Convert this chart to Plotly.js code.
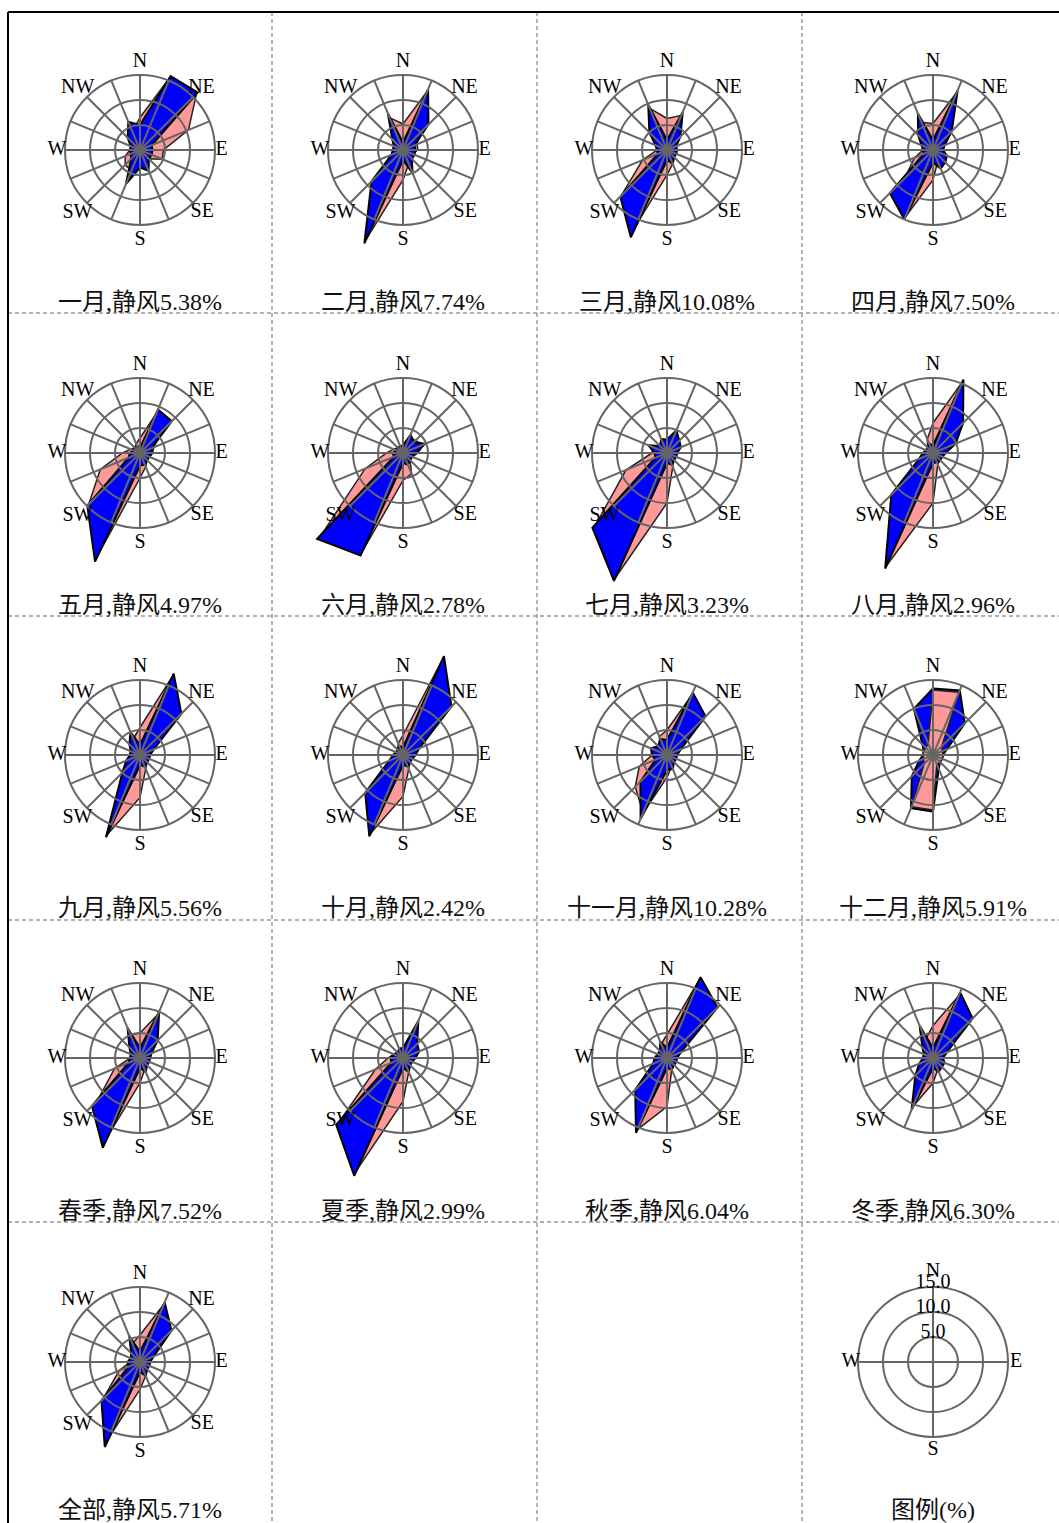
<!DOCTYPE html>
<html>
<head>
<meta charset="utf-8">
<script src="https://cdn.plot.ly/plotly-3.0.1.min.js"></script>
<style>
html,body{margin:0;padding:0;background:#fff;}
#chart{width:1059px;height:1523px;}
</style>
</head>
<body>
<div id="chart"></div>
<script>
// ---------------- DATA ----------------
const directions = ['N','NNE','NE','ENE','E','ESE','SE','SSE','S','SSW','SW','WSW','W','WNW','NW','NNW'];
const dirAngles  = [0,22.5,45,67.5,90,112.5,135,157.5,180,202.5,225,247.5,270,292.5,315,337.5];

const panelNames = ['一月','二月','三月','四月','五月','六月','七月','八月','九月','十月','十一月','十二月','春季','夏季','秋季','冬季','全部'];
const calmPercent = [5.38,7.74,10.08,7.50,4.97,2.78,3.23,2.96,5.56,2.42,10.28,5.91,7.52,2.99,6.04,6.30,5.71];

// blue polygon (%), 16 directions N..NNW
const jan_blue = [5,16,16.3,2.5,2.5,2.5,2.5,4.5,3.5,7.4,2.5,2,2,2,3.5,6.1];
const feb_blue = [1.5,13.1,7.2,2.5,2.5,2.5,2.5,5,2,20.2,8.9,2.5,2,2,3,7.9];
const mar_blue = [2,8.2,3.8,2,2,2,2,3,2,18.9,13.2,2,2,2.5,5,9.8];
const apr_blue = [2,12.9,5.3,2.5,2,3,3.5,4,2.5,15,12.2,2,2,2.5,4.2,7.9];
const may_blue = [1,9.4,9,2.5,2.5,2,2,2.5,2.5,23.5,14.9,2.5,2,1.5,1.5,1.5];
const jun_blue = [1.5,4,3,4.8,2.5,2,2,2.5,2,22.2,24.3,2,2,1.5,1.5,1.5];
const jul_blue = [2.7,4.9,3.5,3,2,2,2,2.5,2,27.7,21.1,2.5,2.5,4,2,3];
const aug_blue = [1.5,15.9,8.5,4.9,2.5,2,2,2,2,25,11.8,3,2,1.5,1.5,2];
const sep_blue = [2,17.6,11.7,3,2,2,2,2.5,2,17.8,5,3,2,2,3,5];
const oct_blue = [1.5,21.4,13.7,3.5,2.5,2,2,2.5,2,17.6,10.7,3,2,1.5,1.5,2];
const nov_blue = [3,13.5,10.9,3,2,2,2,3,3,13.8,7.5,2.5,3,3.5,2.5,3.5];
const dec_blue = [13.3,14,9,3,2,2,2,3,11.3,11.5,6,3,2,2,3,10];
const spr_blue = [2,10,5,2.5,2,2,2,3,2,19.4,13.6,2.5,2,2,3,6.5];
const sum_blue = [2,8,4,3.5,2.5,2,2,3,2,25.5,18.9,2.5,2.5,2,1.5,2];
const aut_blue = [2,17.5,14.3,3,2,2,2,2.5,2,16.2,9,3,2.5,2,2,3.5];
const win_blue = [2,14.2,11.2,3,2,2.5,2.5,3,2,11.2,5,3,2,2,3,7];
const all_blue = [2,12.9,8.9,3,2,2,2,3,2,18.4,10.9,2.5,2.5,2,2.5,5.6];

// pink polygon (%), 16 directions N..NNW
const jan_pink = [6.5,15.8,16,10.5,4.7,4.8,2.5,3,3,4.5,4.2,3.2,2,2,3,4];
const feb_pink = [5.2,12.8,5,3,3,2,2,3,6,19.5,5,2.5,2,2,3,7];
const mar_pink = [6.3,7.5,3,2,2,2,2,3,5,16.5,13,5.3,2,2,4,9];
const apr_pink = [5.3,12.5,5,2.5,2,2,2.5,2.5,6,14.5,8,4,2,2,3,6];
const may_pink = [3,8.5,6,3,2.5,2,2,3,5,22.5,14.5,8.6,3.5,2,1.5,2];
const jun_pink = [1.5,3.5,3.5,4.5,3,2,2,4.5,5.5,21.5,23,8.2,3.3,2,1.5,1.5];
const jul_pink = [2.5,4,3,3,2,2,2,3,10,27,20,8.9,3,3,2,2.5];
const aug_pink = [6,15.5,6,4,2.5,2,2,2.5,10,24.5,8,3,2,1.5,1.5,3];
const sep_pink = [5.5,17.2,6,3,2,2,2,3,8.5,17.3,3,2.5,2,2,2.5,3.5];
const oct_pink = [4,21,5,3,2.5,2,2,3,8.3,17,6,2.5,2,1.5,1.5,2.5];
const nov_pink = [5,13,6,3,2,2,2,2.5,4.5,12.5,9,6,3,2.5,2,4];
const dec_pink = [13,13.6,2.5,2,2,2,2,2,11,11.2,2.5,2,2,2,2,2.5];
const spr_pink = [5,9.5,4,2.5,2,2,2,2.5,5,17,12,5.5,2,2,2.5,5];
const sum_pink = [2,6,4,3,2.5,2,2,3,8.7,24.5,18,6,3,2,1.5,2];
const aut_pink = [4.7,17,6,3,2,2,2,2.5,9.7,15.5,5,3,2,2,2,3];
const win_pink = [6.5,13.5,6,3,2,2,2,2.5,5,10.5,4,2.5,2,2,2.5,4];
const all_pink = [5.4,12.5,5.5,3,2,2,2,3,5.5,16.5,10.5,4.5,2,2,2,4];

const blueSeries = [jan_blue,feb_blue,mar_blue,apr_blue,may_blue,jun_blue,jul_blue,aug_blue,sep_blue,oct_blue,nov_blue,dec_blue,spr_blue,sum_blue,aut_blue,win_blue,all_blue];
const pinkSeries = [jan_pink,feb_pink,mar_pink,apr_pink,may_pink,jun_pink,jul_pink,aug_pink,sep_pink,oct_pink,nov_pink,dec_pink,spr_pink,sum_pink,aut_pink,win_pink,all_pink];

const ringValues = [5, 10, 15];
const compassLabels = ['N','NE','E','SE','S','SW','W','NW'];
const compassAngles = [0,45,90,135,180,225,270,315];
const legendTitle = '图例(%)';
const legendLabels = ['N','E','S','W'];
const legendAngles = [0,90,180,270];

// ---------------- STYLE / LAYOUT CONSTANTS ----------------
// drawing order per panel: true = pink polygon drawn above the blue one
const pinkAbove = [false,false,false,false,false,false,false,false,false,false,false,true,false,false,false,false,false];

const W = 1059, H = 1523;
const colX = [140, 403, 667, 933];
const rowY = [150, 453, 755, 1058, 1362];
const titleY = [302, 605, 908, 1211, 1510];
const PX_PER_PCT = 5;           // 5% ring = 25 px
const RMAX = 15;
const compassR = [17.6,17.4,16.3,17.6,18,17.7,16.6,17.6];
const legendLabelR = [18,16.6,17.6,16.4];
const ringLabelOffset = 0.7;

const SERIF = 'Liberation Serif, Noto Sans CJK SC, serif';
const TITLEFONT = 'Liberation Serif, Noto Sans CJK SC, sans-serif';

function clamp01(v){ return Math.max(0, Math.min(1, v)); }
function cellGeom(cx, cy){
  const R = Math.min(28, cx/PX_PER_PCT, (W-cx)/PX_PER_PCT, cy/PX_PER_PCT, (H-cy)/PX_PER_PCT) - 0.01;
  const rho = R*PX_PER_PCT;
  return {R: R, domain: {x:[clamp01((cx-rho)/W), clamp01((cx+rho)/W)], y:[clamp01(1-(cy+rho)/H), clamp01(1-(cy-rho)/H)]}};
}
function pid(n){ return n === 1 ? 'polar' : 'polar' + n; }
function closeLoop(a){ return a.concat([a[0]]); }

const layout = {
  width: W, height: H,
  margin: {l:0, r:0, t:0, b:0},
  paper_bgcolor: '#fff',
  showlegend: false,
  annotations: [],
  shapes: []
};
const data = [];

const nPanels = panelNames.length;      // 17
const nCells = nPanels + 1;             // + legend cell
for (let i = 0; i < nCells; i++) {
  const col = i % 4, row = Math.floor(i / 4);
  const cellCol = (i === nPanels) ? 3 : col;
  const cx = colX[cellCol], cy = rowY[row];
  const g = cellGeom(cx, cy);
  const isLegend = (i === nPanels);

  if (!isLegend) {
    const dId = pid(i + 1);
    layout[dId] = {
      domain: g.domain, bgcolor: 'rgba(0,0,0,0)',
      radialaxis: {visible:false, range:[0, g.R]},
      angularaxis: {visible:false, rotation:90, direction:'clockwise'}
    };
    const pinkTrace = {
      type:'scatterpolar', subplot:dId, mode:'lines', fill:'toself',
      r: closeLoop(pinkSeries[i]), theta: closeLoop(dirAngles),
      fillcolor:'#FF9999', line:{color:'#222', width:1.5}, hoverinfo:'skip'
    };
    const blueTrace = {
      type:'scatterpolar', subplot:dId, mode:'lines', fill:'toself',
      r: closeLoop(blueSeries[i]), theta: closeLoop(dirAngles),
      fillcolor:'#0000FF', line:{color:'#000', width:2}, hoverinfo:'skip'
    };
    if (pinkAbove[i]) { data.push(blueTrace, pinkTrace); }
    else { data.push(pinkTrace, blueTrace); }
  }

  const gId = pid(nPanels + 1 + i);
  layout[gId] = {
    domain: g.domain, bgcolor: 'rgba(0,0,0,0)',
    radialaxis: {visible:true, range:[0, g.R], tickvals: ringValues, showticklabels:false,
                 ticks:'', showline:false, showgrid:true, gridcolor:'#666', gridwidth:2},
    angularaxis: {rotation:90, direction:'clockwise', showgrid:false, showline:false,
                  showticklabels:false, ticks:''}
  };
  const spokeAngles = isLegend ? legendAngles : dirAngles;
  const sr = [], st = [];
  spokeAngles.forEach(a => { sr.push(0, RMAX, null); st.push(a, a, null); });
  data.push({type:'scatterpolar', subplot:gId, mode:'lines', r:sr, theta:st,
             line:{color:'#666', width:2}, connectgaps:false, hoverinfo:'skip'});
  data.push({
    type:'scatterpolar', subplot:gId, mode:'text', cliponaxis:false,
    r: isLegend ? legendLabelR : compassR,
    theta: isLegend ? legendAngles : compassAngles,
    text: isLegend ? legendLabels : compassLabels,
    textposition:'middle center',
    textfont:{family:SERIF, size:20, color:'#000'}, hoverinfo:'skip'
  });
  if (isLegend) {
    data.push({
      type:'scatterpolar', subplot:gId, mode:'text', cliponaxis:false,
      r: ringValues.map(v => v + ringLabelOffset), theta: ringValues.map(() => 0),
      text: ringValues.map(v => v.toFixed(1)),
      textposition:'middle center',
      textfont:{family:SERIF, size:20, color:'#000'}, hoverinfo:'skip'
    });
  }

  const title = isLegend ? legendTitle : (panelNames[i] + ',静风' + calmPercent[i].toFixed(2) + '%');
  layout.annotations.push({
    xref:'paper', yref:'paper', x: cx/W, y: 1 - titleY[row]/H,
    xanchor:'center', yanchor:'middle', showarrow:false, text: title,
    font:{family:TITLEFONT, size:24, color:'#111'}
  });
}

function hline(y, x0, x1, style){ return Object.assign({type:'line', xref:'paper', yref:'paper', x0:x0/W, x1:x1/W, y0:1-y/H, y1:1-y/H}, style); }
function vline(x, y0, y1, style){ return Object.assign({type:'line', xref:'paper', yref:'paper', x0:x/W, x1:x/W, y0:1-y0/H, y1:1-y1/H}, style); }
const solid = {line:{color:'#000', width:2}};
const dashed = {line:{color:'#999', width:1.5, dash:'4px,3px'}};
[313, 616, 920, 1222].forEach(y => layout.shapes.push(hline(y, 8, W, dashed)));
[272, 537, 802].forEach(x => layout.shapes.push(vline(x, 12, H, dashed)));
layout.shapes.push(hline(12, 8, W, solid));
layout.shapes.push(vline(8, 12, H, solid));

Plotly.newPlot('chart', data, layout, {staticPlot:true, displayModeBar:false});
</script>
</body>
</html>
